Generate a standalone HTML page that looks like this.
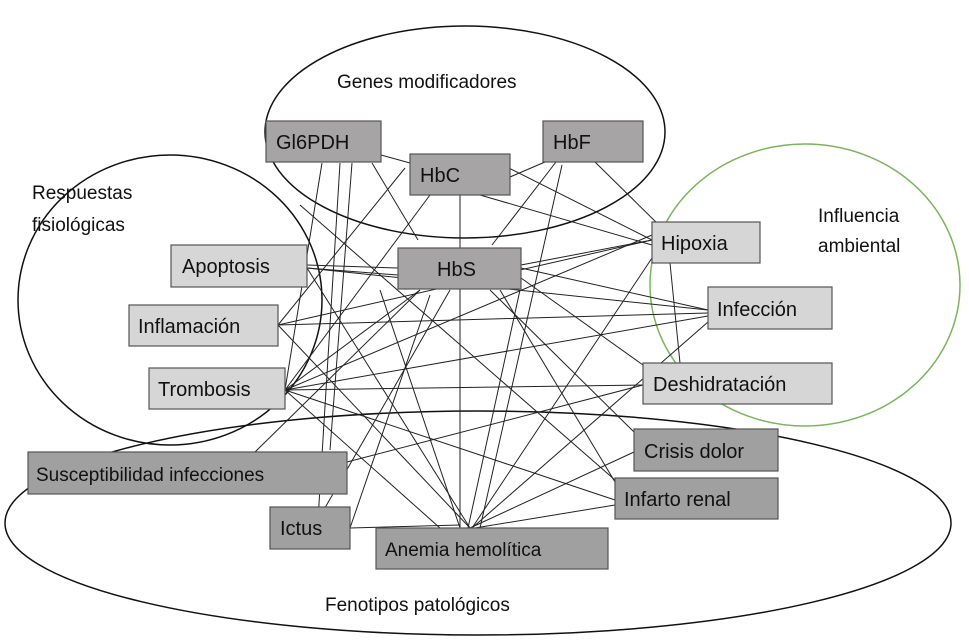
<!DOCTYPE html>
<html><head><meta charset="utf-8"><style>
html,body{margin:0;padding:0;background:#fff}
svg{display:block}
text{font-family:"Liberation Sans",sans-serif;fill:#111}
</style></head><body>
<svg width="969" height="641" viewBox="0 0 969 641" xmlns="http://www.w3.org/2000/svg">
<g fill="none" stroke="#111" stroke-width="1.5">
<ellipse cx="465" cy="132" rx="200" ry="106"/>
<ellipse cx="170" cy="300" rx="152" ry="145"/>
<ellipse cx="478" cy="523" rx="473" ry="112"/>
</g>
<ellipse cx="805" cy="285" rx="155" ry="141" fill="none" stroke="#7ab55c" stroke-width="1.5"/>
<g stroke="#222" stroke-width="1">
<line x1="381" y1="155" x2="410" y2="163"/>
<line x1="322" y1="163" x2="285" y2="390"/>
<line x1="340" y1="163" x2="318" y2="520"/>
<line x1="352" y1="163" x2="330" y2="450"/>
<line x1="372" y1="163" x2="418" y2="240"/>
<line x1="405" y1="168" x2="278" y2="325"/>
<line x1="430" y1="195" x2="285" y2="390"/>
<line x1="460" y1="195" x2="460" y2="528"/>
<line x1="505" y1="166" x2="652" y2="240"/>
<line x1="545" y1="162" x2="510" y2="177"/>
<line x1="556" y1="162" x2="492" y2="245"/>
<line x1="562" y1="165" x2="480" y2="528"/>
<line x1="595" y1="162" x2="662" y2="228"/>
<line x1="480" y1="195" x2="652" y2="245"/>
<line x1="521" y1="265" x2="652" y2="240"/>
<line x1="521" y1="268" x2="708" y2="310"/>
<line x1="521" y1="278" x2="643" y2="365"/>
<line x1="307" y1="265" x2="398" y2="268"/>
<line x1="307" y1="268" x2="398" y2="275"/>
<line x1="307" y1="268" x2="708" y2="310"/>
<line x1="307" y1="268" x2="470" y2="528"/>
<line x1="278" y1="325" x2="652" y2="240"/>
<line x1="278" y1="325" x2="708" y2="313"/>
<line x1="278" y1="325" x2="470" y2="528"/>
<line x1="285" y1="390" x2="652" y2="235"/>
<line x1="285" y1="390" x2="708" y2="316"/>
<line x1="285" y1="390" x2="643" y2="385"/>
<line x1="285" y1="390" x2="615" y2="500"/>
<line x1="285" y1="390" x2="440" y2="528"/>
<line x1="285" y1="390" x2="420" y2="290"/>
<line x1="255" y1="452" x2="420" y2="290"/>
<line x1="347" y1="462" x2="643" y2="385"/>
<line x1="318" y1="520" x2="450" y2="290"/>
<line x1="350" y1="528" x2="460" y2="525"/>
<line x1="350" y1="528" x2="430" y2="295"/>
<line x1="470" y1="528" x2="634" y2="452"/>
<line x1="475" y1="528" x2="615" y2="505"/>
<line x1="472" y1="528" x2="652" y2="258"/>
<line x1="472" y1="528" x2="708" y2="322"/>
<line x1="468" y1="528" x2="520" y2="290"/>
<line x1="460" y1="528" x2="380" y2="290"/>
<line x1="670" y1="263" x2="680" y2="363"/>
<line x1="634" y1="432" x2="490" y2="290"/>
<line x1="615" y1="482" x2="500" y2="290"/>
<line x1="300" y1="205" x2="615" y2="480"/>
</g>
<g stroke="#555" stroke-width="1.2">
<rect x="266" y="121" width="115" height="41" fill="#a6a4a4"/>
<rect x="410" y="154" width="100" height="41" fill="#a6a4a4"/>
<rect x="543" y="121" width="100" height="41" fill="#a6a4a4"/>
<rect x="398" y="248" width="123" height="41" fill="#a6a4a4"/>
<rect x="171" y="245" width="136" height="42" fill="#d6d6d6"/>
<rect x="129" y="305" width="149" height="41" fill="#d6d6d6"/>
<rect x="149" y="368" width="136" height="41" fill="#d6d6d6"/>
<rect x="652" y="222" width="108" height="41" fill="#d6d6d6"/>
<rect x="708" y="287" width="124" height="42" fill="#d6d6d6"/>
<rect x="643" y="363" width="189" height="41" fill="#d6d6d6"/>
<rect x="634" y="429" width="144" height="42" fill="#a0a0a0"/>
<rect x="615" y="478" width="163" height="41" fill="#a0a0a0"/>
<rect x="28" y="452" width="319" height="42" fill="#a0a0a0"/>
<rect x="270" y="507" width="80" height="42" fill="#a0a0a0"/>
<rect x="376" y="528" width="232" height="41" fill="#a0a0a0"/>
</g>
<g font-size="20">
<text x="276" y="149">Gl6PDH</text>
<text x="420" y="182">HbC</text>
<text x="553" y="149">HbF</text>
<text x="437" y="276">HbS</text>
<text x="182" y="273">Apoptosis</text>
<text x="138" y="333">Inflamación</text>
<text x="158" y="396">Trombosis</text>
<text x="661" y="250">Hipoxia</text>
<text x="717" y="316">Infección</text>
<text x="653" y="391">Deshidratación</text>
<text x="644" y="458">Crisis dolor</text>
<text x="624" y="506">Infarto renal</text>
<text x="36" y="481" font-size="19">Susceptibilidad infecciones</text>
<text x="280" y="535">Ictus</text>
<text x="385" y="556" font-size="19">Anemia hemolítica</text>
<text x="337" y="88" font-size="19">Genes modificadores</text>
<text x="32" y="199" font-size="19">Respuestas</text>
<text x="32" y="231" font-size="19">fisiológicas</text>
<text x="818" y="222" font-size="19">Influencia</text>
<text x="818" y="252" font-size="19">ambiental</text>
<text x="325" y="611" font-size="19">Fenotipos patológicos</text>
</g>
</svg>
</body></html>
